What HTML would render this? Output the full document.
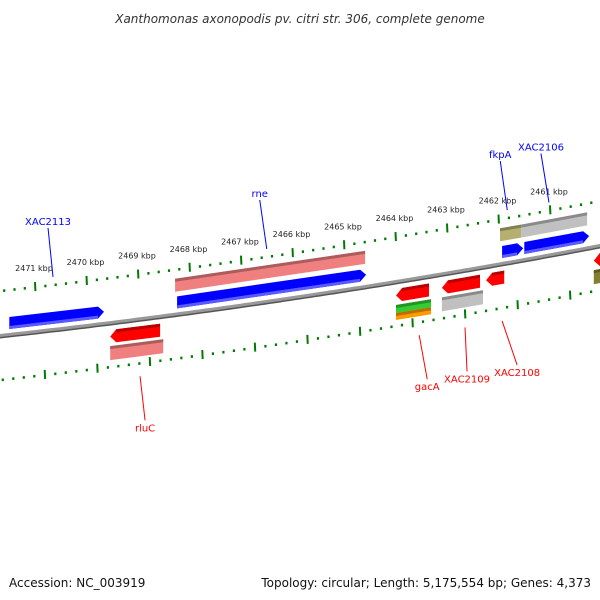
<!DOCTYPE html>
<html><head><meta charset="utf-8"><style>
body{margin:0;background:#fff}
svg{display:block;font-family:"DejaVu Sans","Liberation Sans",sans-serif}
</style></head><body>
<svg id="map" width="600" height="600" viewBox="0 0 600 600">
<text x="300" y="23" text-anchor="middle" font-size="12" font-style="italic" fill="#333">Xanthomonas axonopodis pv. citri str. 306, complete genome</text>
<text x="9" y="587" font-size="12" fill="#111">Accession: NC_003919</text>
<text x="591" y="587" text-anchor="end" font-size="12" fill="#111">Topology: circular; Length: 5,175,554 bp; Genes: 4,373</text>
<g id="g"></g>
</svg>
<script>
const tickKbp=[2471,2470,2469,2468,2467,2466,2465,2464,2463,2462,2461];
const featStart=[2471.50,2468.24,2468.28,2461.93,2461.50,2461.97,2461.56,2469.54,2469.54,2463.99,2463.99,2463.99,2463.10,2463.10,2462.24,2460.15,2460.15];
const featEnd=[2469.66,2464.57,2464.59,2461.52,2460.24,2461.56,2460.28,2468.57,2468.51,2463.35,2463.31,2463.31,2462.36,2462.30,2461.89,2459.80,2459.80];
const featTrack=[1,1,2,1,1,2,2,-1,-2,-1,-4,-3,-1,-2,-1,-1,-2];
const featDir=[1,1,0,1,1,0,0,-1,0,-1,0,0,-1,0,-1,-1,0];
const featColor=['#0000ff','#0000ff','#f08080','#0000ff','#0000ff','#b5b070','#c0c0c0','#ff0000','#f08080','#ff0000','#33cc33','#ff9900','#ff0000','#c0c0c0','#ff0000','#ff0000','#808030'];
const labelText=['XAC2113','rne','fkpA','XAC2106','rluC','gacA','XAC2109','XAC2108'];
const labelKbp=[2470.65,2466.50,2461.83,2461.02,2468.96,2463.54,2462.65,2461.93];
const labelSide=[1,1,1,1,-1,-1,-1,-1];
const labelDx=[-5,-7,-7,-8,5,8,2,15];

const g=document.getElementById('g');
const NS='http://www.w3.org/2000/svg';
function X(k){return 35+(2471-k)*51.5;}
function yb(x){return 336-0.11*x-6.67e-5*x*x;}
function mk(t,a){const e=document.createElementNS(NS,t);for(const k in a)e.setAttribute(k,a[k]);g.appendChild(e);return e;}
function curve(off){let d='';for(let x=-5;x<=605;x+=5){d+=(x<0?'M':'L')+x+','+(yb(x)+off).toFixed(1);}return d;}
let bb=mk('path',{d:curve(1.5),stroke:'#555',"stroke-width":2,fill:'none'});

let bb2=mk('path',{d:curve(-0.5),stroke:'#999',"stroke-width":3,fill:'none'});

function ticks(off,xf,name){
  for(let i=0;i<tickKbp.length+2;i++){
    for(let j=0;j<5;j++){
      const k=(tickKbp[0]+1)-i+(-j*0.2);
      const x=xf(X(k));if(x<-5||x>605)continue;
      const y=yb(x)+off;
      let e;
      if(j==0){e=mk('line',{x1:x,y1:y-5,x2:x+0.4,y2:y+4,stroke:'#007a00',"stroke-width":2});}
      else{e=mk('rect',{x:x-1,y:y-1.2,width:2.2,height:2.6,fill:'#007a00'});}
      
      
    }
  }
}
ticks(-45,x=>x,'outer-ruler');
ticks(44,x=>1.02*x+9,'inner-ruler');
tickKbp.forEach(k=>{
  const x=X(k);const t=mk('text',{x:x-1,y:yb(x)-45-16,"text-anchor":"middle","font-size":8,fill:'#222'});
  t.textContent=k+' kbp';
  
});
const trackOff={1:[-18,-6],2:[-36,-23],'-1':[7,20],'-2':[23,37],'-3':[31,38],'-4':[23,31]};
function shade(c,f){const n=parseInt(c.slice(1),16);let r=n>>16,gg=(n>>8)&255,b=n&255;
 const m=v=>Math.max(0,Math.min(255,Math.round(v*f)));return 'rgb('+m(r)+','+m(gg)+','+m(b)+')';}
for(let i=0;i<featStart.length;i++){
  let x1=X(featStart[i]),x2=X(featEnd[i]);
  const [o1,o2]=trackOff[featTrack[i]];
  const dir=featDir[i],h=6;
  const P=(x,o)=>x.toFixed(1)+','+(yb(x)+o).toFixed(1);
  const om=(o1+o2)/2;let pts;
  if(dir==1)pts=[P(x1,o1),P(x2-h,o1),P(x2,om),P(x2-h,o2),P(x1,o2)];
  else if(dir==-1)pts=[P(x1,om),P(x1+h,o1),P(x2,o1),P(x2,o2),P(x1+h,o2)];
  else pts=[P(x1,o1),P(x2,o1),P(x2,o2),P(x1,o2)];
  const e=mk('polygon',{points:pts.join(' '),fill:featColor[i]});
  
  const isBlue=featColor[i]=='#0000ff';
  const so=isBlue?[o2-3,o2]:[o1,o1+3];
  const sx1=dir==-1?x1+h:x1,sx2=dir==1?x2-h:x2;
  const s=mk('polygon',{points:[P(sx1,so[0]),P(sx2,so[0]),P(sx2,so[1]),P(sx1,so[1])].join(' '),fill:isBlue?'#5a5aff':shade(featColor[i],0.72)});
  
}
for(let i=0;i<labelText.length;i++){
  const x=X(labelKbp[i]);const up=labelSide[i]==1;
  const c=up?'#0000ff':'#ff0000';
  const yA=up?yb(x)-53:yb(x)+57;
  const yB=up?yA-49:yA+44;
  const xB=x+labelDx[i];
  const l=mk('line',{x1:x,y1:yA,x2:xB,y2:yB,stroke:c,"stroke-width":1});
  
  const t=mk('text',{x:xB,y:up?yB-3:yB+11,"text-anchor":"middle","font-size":10,fill:c});
  t.textContent=labelText[i];
  
}
</script>
</body></html>
